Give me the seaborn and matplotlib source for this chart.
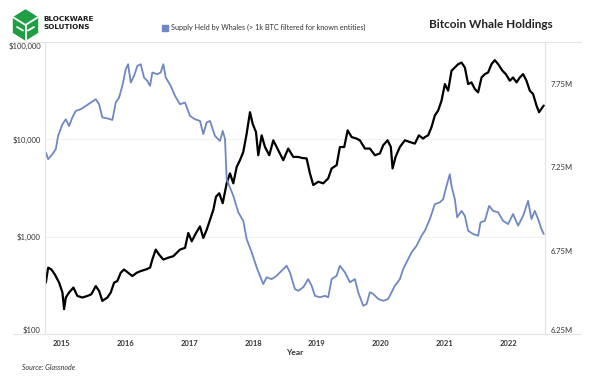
import numpy as np
import pandas as pd
import matplotlib.pyplot as plt
import matplotlib.ticker as mticker
from matplotlib.lines import Line2D
from matplotlib.patches import Polygon
import seaborn as sns

# ── Data ──────────────────────────────────────────────────────────────────────
price_year = [2014.753, 2014.789, 2014.840, 2014.894, 2014.961, 2015.013, 2015.039, 2015.066,
              2015.117, 2015.185, 2015.247, 2015.326, 2015.404, 2015.466, 2015.535, 2015.587,
              2015.638, 2015.717, 2015.770, 2015.822, 2015.873, 2015.926, 2015.978, 2016.041,
              2016.108, 2016.177, 2016.239, 2016.318, 2016.385, 2016.421, 2016.474, 2016.526,
              2016.593, 2016.667, 2016.750, 2016.776, 2016.854, 2016.933, 2016.984, 2017.038,
              2017.105, 2017.167, 2017.219, 2017.272, 2017.324, 2017.376, 2017.418, 2017.469,
              2017.523, 2017.585, 2017.637, 2017.689, 2017.742, 2017.793, 2017.845, 2017.898,
              2017.950, 2017.992, 2018.044, 2018.080, 2018.133, 2018.185, 2018.252, 2018.315,
              2018.393, 2018.471, 2018.549, 2018.628, 2018.706, 2018.759, 2018.837, 2018.889,
              2018.941, 2019.019, 2019.097, 2019.175, 2019.229, 2019.307, 2019.358, 2019.426,
              2019.479, 2019.542, 2019.620, 2019.671, 2019.750, 2019.828, 2019.906, 2019.984,
              2020.036, 2020.105, 2020.156, 2020.183, 2020.230, 2020.297, 2020.376, 2020.454,
              2020.532, 2020.595, 2020.662, 2020.689, 2020.740, 2020.793, 2020.845, 2020.897,
              2020.950, 2021.002, 2021.053, 2021.106, 2021.158, 2021.210, 2021.263, 2021.315,
              2021.366, 2021.419, 2021.471, 2021.523, 2021.576, 2021.628, 2021.679, 2021.732,
              2021.784, 2021.836, 2021.905, 2021.956, 2022.019, 2022.070, 2022.124, 2022.175,
              2022.227, 2022.280, 2022.332, 2022.383, 2022.437, 2022.477, 2022.531, 2022.551]
price_usd = [337, 480, 460, 409, 337, 267, 180, 237,
             267, 300, 246, 237, 246, 256, 311, 277,
             219, 237, 267, 337, 350, 426, 460, 426,
             394, 426, 443, 460, 480, 582, 737, 655,
             582, 607, 630, 655, 737, 767, 1091, 896,
             1091, 1274, 970, 1178, 1491, 1886, 2577, 2793,
             2207, 3532, 4467, 3532, 5216, 6105, 7417, 11430,
             19000, 14450, 11870, 6866, 10990, 8340, 6866, 9770,
             7727, 6105, 8040, 6596, 6596, 6450, 6355, 4467,
             3393, 3665, 3532, 3970, 5024, 5429, 8340, 8340,
             12360, 10550, 10170, 9770, 8040, 8040, 6866, 7150,
             8690, 9770, 8340, 5024, 6596, 8340, 9770, 9380,
             9040, 10990, 10170, 10550, 10990, 13360, 17580, 19770,
             25000, 37000, 31620, 50600, 54700, 59200, 61500, 54700,
             37000, 38450, 32900, 30400, 43200, 46800, 48600, 59200,
             65100, 59200, 50600, 46800, 40000, 43200, 38450, 43200,
             46800, 40000, 31620, 29250, 22230, 19000, 21380, 22230]

whale_year = [2014.753, 2014.789, 2014.856, 2014.909, 2014.945, 2015.013, 2015.066, 2015.117,
              2015.169, 2015.222, 2015.300, 2015.379, 2015.457, 2015.535, 2015.587, 2015.638,
              2015.717, 2015.795, 2015.848, 2015.900, 2015.951, 2016.005, 2016.041, 2016.083,
              2016.135, 2016.186, 2016.239, 2016.291, 2016.343, 2016.385, 2016.421, 2016.499,
              2016.552, 2016.593, 2016.631, 2016.709, 2016.776, 2016.854, 2016.933, 2017.011,
              2017.089, 2017.167, 2017.219, 2017.272, 2017.324, 2017.402, 2017.480, 2017.523,
              2017.559, 2017.585, 2017.626, 2017.689, 2017.767, 2017.845, 2017.898, 2017.977,
              2018.055, 2018.106, 2018.158, 2018.211, 2018.290, 2018.368, 2018.446, 2018.524,
              2018.576, 2018.654, 2018.706, 2018.784, 2018.862, 2018.916, 2018.967, 2019.045,
              2019.124, 2019.175, 2019.229, 2019.307, 2019.358, 2019.437, 2019.515, 2019.593,
              2019.645, 2019.723, 2019.776, 2019.828, 2019.880, 2019.958, 2020.036, 2020.114,
              2020.167, 2020.219, 2020.297, 2020.349, 2020.427, 2020.480, 2020.559, 2020.637,
              2020.689, 2020.767, 2020.845, 2020.923, 2020.975, 2021.028, 2021.080, 2021.106,
              2021.158, 2021.194, 2021.263, 2021.315, 2021.366, 2021.444, 2021.523, 2021.560,
              2021.628, 2021.695, 2021.757, 2021.836, 2021.914, 2021.992, 2022.070, 2022.149,
              2022.227, 2022.305, 2022.358, 2022.410, 2022.462, 2022.515, 2022.551]
whale_supply_m = [7.338, 7.298, 7.328, 7.358, 7.437, 7.507, 7.537, 7.496,
                  7.549, 7.587, 7.597, 7.617, 7.637, 7.657, 7.627, 7.548,
                  7.542, 7.533, 7.637, 7.667, 7.737, 7.837, 7.867, 7.757,
                  7.797, 7.857, 7.867, 7.787, 7.767, 7.737, 7.817, 7.807,
                  7.817, 7.867, 7.787, 7.737, 7.677, 7.627, 7.637, 7.557,
                  7.537, 7.527, 7.448, 7.518, 7.527, 7.437, 7.407, 7.467,
                  7.418, 7.178, 7.138, 7.078, 6.979, 6.928, 6.819, 6.739,
                  6.649, 6.599, 6.549, 6.590, 6.579, 6.599, 6.629, 6.659,
                  6.619, 6.519, 6.509, 6.530, 6.579, 6.539, 6.479, 6.470,
                  6.479, 6.470, 6.579, 6.599, 6.659, 6.619, 6.560, 6.579,
                  6.500, 6.419, 6.430, 6.500, 6.490, 6.460, 6.449, 6.460,
                  6.500, 6.539, 6.579, 6.639, 6.699, 6.739, 6.779, 6.839,
                  6.869, 6.939, 7.028, 7.039, 7.058, 7.138, 7.208, 7.138,
                  7.058, 6.949, 6.988, 6.958, 6.869, 6.849, 6.839, 6.919,
                  6.928, 7.018, 6.988, 6.979, 6.928, 6.909, 6.969, 6.899,
                  6.958, 7.048, 6.939, 6.988, 6.939, 6.879, 6.849]

year_ticks = [2015, 2016, 2017, 2018, 2019, 2020, 2021, 2022]
left_ticks = [100, 1000, 10000, 100000]
left_labels = ["$100", "$1,000", "$10,000", "$100,000"]
right_ticks = [6.25, 6.75, 7.25, 7.75]
right_labels = ["6.25M", "6.75M", "7.25M", "7.75M"]

price_df = pd.DataFrame({"year": price_year, "price": price_usd})
whale_df = pd.DataFrame({"year": whale_year, "supply": whale_supply_m})

BLUE = "#6f87c2"
GRID = "#e4e4e4"
TXT = "#333333"

# ── Figure ────────────────────────────────────────────────────────────────────
sns.set_theme(style="white")
plt.rcParams['font.family'] = ['Lato', 'DejaVu Sans']

fig = plt.figure(figsize=(6, 3.85), dpi=100)
ax = fig.add_axes([45 / 600, 1 - 334 / 385, 500 / 600, 292 / 385])

sns.lineplot(data=price_df, x="year", y="price", ax=ax, color="black", lw=1.6)
ax.set_yscale("log")
ax.set_ylim(100, 100000)
ax.set_xlim(2014.74, 2022.57)
ax.yaxis.set_major_locator(mticker.FixedLocator(left_ticks))
ax.yaxis.set_minor_locator(mticker.NullLocator())
ax.set_yticklabels(left_labels)
ax.set_xticks(year_ticks)
ax.set_xticklabels([str(y) for y in year_ticks], fontweight="bold")
ax.yaxis.grid(True, color="#f1f1f1", lw=0.8)
ax.tick_params(axis="y", length=0, labelsize=5.5, colors=TXT, pad=3)
ax.tick_params(axis="x", length=0, labelsize=5.5, colors=TXT, pad=4)
ax.set_ylabel("")
ax.set_xlabel("Year", fontsize=6, fontweight="bold", color=TXT, labelpad=2)

ax2 = ax.twinx()
sns.lineplot(data=whale_df, x="year", y="supply", ax=ax2, color=BLUE, lw=1.3)
ax2.set_ylim(6.25, 8.0)
ax2.set_yticks(right_ticks)
ax2.set_yticklabels(right_labels)
ax2.tick_params(axis="y", length=0, labelsize=5.5, colors=TXT, pad=4)
ax2.set_ylabel("")

# keep the edge labels inside the header / footer rules
ylabs = ax.get_yticklabels()
ylabs[0].set_verticalalignment("bottom")
ylabs[-1].set_verticalalignment("top")
ax2.get_yticklabels()[0].set_verticalalignment("bottom")

for a in (ax, ax2):
    a.spines["top"].set_visible(False)
    a.spines["bottom"].set_visible(False)
    a.spines["left"].set_color(GRID)
    a.spines["right"].set_color(GRID)
    a.spines["left"].set_linewidth(0.8)
    a.spines["right"].set_linewidth(0.8)

# long header / footer rules
for py in (42, 334):
    fig.add_artist(Line2D([13 / 600, 581 / 600], [1 - py / 385] * 2,
                          color=GRID, lw=0.8, transform=fig.transFigure))

# ── Header ────────────────────────────────────────────────────────────────────
fig.text(553 / 600, 1 - 25 / 385, "Bitcoin Whale Holdings", ha="right", va="center",
         fontsize=8.5, fontweight="bold", color="#222222")

fig.patches.append(plt.Rectangle((162 / 600, 1 - 31 / 385), 6 / 600, 6 / 385,
                                 color=BLUE, transform=fig.transFigure))
fig.text(171 / 600, 1 - 27.5 / 385,
         "Supply Held by Whales (> 1k BTC filtered for known entities)",
         ha="left", va="center", fontsize=5.2, color=TXT)

# logo: green cube + wordmark
def fxy(px, py):
    return (px / 600, 1 - py / 385)

hexagon = [fxy(25.5, 10), fxy(13.5, 17.5), fxy(13.5, 32.5),
           fxy(25.5, 40), fxy(37.5, 32.5), fxy(37.5, 17.5)]
fig.patches.append(Polygon(hexagon, closed=True, color="#1f9e43",
                           transform=fig.transFigure))
for seg in ([(13.5, 17.5), (25.5, 25), (37.5, 17.5)], [(25.5, 25), (25.5, 40)],
            [(17, 27), (23, 30.5)], [(28, 30.5), (34, 27)]):
    xs, ys = zip(*[fxy(*p) for p in seg])
    fig.add_artist(Line2D(xs, ys, color="white", lw=1.3, transform=fig.transFigure))

fig.text(43 / 600, 1 - 19 / 385, "BLOCKWARE", ha="left", va="center",
         fontsize=5.2, fontweight="heavy", color="#1b1b1b", family="DejaVu Sans")
fig.text(43 / 600, 1 - 27 / 385, "SOLUTIONS", ha="left", va="center",
         fontsize=5.2, fontweight="heavy", color="#1b1b1b", family="DejaVu Sans")

# ── Footer ────────────────────────────────────────────────────────────────────
fig.text(22 / 600, 1 - 367 / 385, "Source: Glassnode", ha="left", va="center",
         fontsize=5, style="italic", color=TXT)

fig.savefig("out.png", dpi=100)
